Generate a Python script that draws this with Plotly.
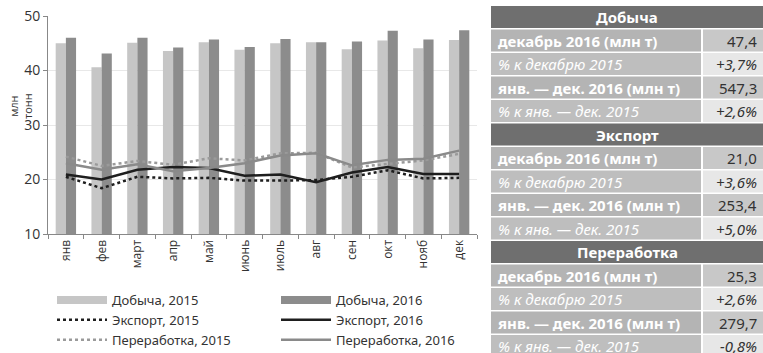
import plotly.graph_objects as go

months = ["янв", "фев", "март", "апр", "май", "июнь", "июль", "авг", "сен", "окт", "нояб", "дек"]
prod_2015 = [45.0, 40.6, 45.1, 43.6, 45.2, 43.8, 45.0, 45.2, 43.9, 45.5, 44.1, 45.6]
prod_2016 = [46.0, 43.1, 46.0, 44.2, 45.7, 44.3, 45.8, 45.2, 45.3, 47.3, 45.7, 47.4]
export_2015 = [20.5, 18.4, 20.5, 20.2, 20.3, 19.8, 19.8, 19.9, 20.5, 21.7, 20.2, 20.3]
export_2016 = [20.9, 20.0, 21.8, 22.3, 22.1, 20.7, 20.9, 19.5, 21.3, 22.3, 21.0, 21.0]
proc_2015 = [24.2, 22.5, 23.4, 22.7, 23.9, 23.5, 24.8, 24.9, 22.2, 22.9, 23.5, 24.7]
proc_2016 = [23.0, 21.8, 22.8, 21.5, 22.1, 23.0, 24.4, 24.8, 22.6, 23.6, 23.8, 25.3]

table_rows = [
    ("header", "Добыча", ""),
    ("bold", "декабрь 2016 (млн т)", "47,4"),
    ("ital", "% к декабрю 2015", "+3,7%"),
    ("bold", "янв. — дек. 2016 (млн т)", "547,3"),
    ("ital", "% к янв. — дек. 2015", "+2,6%"),
    ("header", "Экспорт", ""),
    ("bold", "декабрь 2016 (млн т)", "21,0"),
    ("ital", "% к декабрю 2015", "+3,6%"),
    ("bold", "янв. — дек. 2016 (млн т)", "253,4"),
    ("ital", "% к янв. — дек. 2015", "+5,0%"),
    ("header", "Переработка", ""),
    ("bold", "декабрь 2016 (млн т)", "25,3"),
    ("ital", "% к декабрю 2015", "+2,6%"),
    ("bold", "янв. — дек. 2016 (млн т)", "279,7"),
    ("ital", "% к янв. — дек. 2015", "-0,8%"),
]

W, H = 763, 353
ML, MR, MT, MB = 48, 0, 16, 119
PW = W - ML - MR
PH = H - MT - MB
FONT = "Noto Sans"

C_LIGHT = "#c6c6c6"
C_DARK = "#8c8c8c"

fig = go.Figure()
fig.add_trace(go.Bar(x=months, y=prod_2015, marker=dict(color=C_LIGHT, line=dict(width=0)),
                     showlegend=False, name="Добыча, 2015"))
fig.add_trace(go.Bar(x=months, y=prod_2016, marker=dict(color=C_DARK, line=dict(width=0)),
                     showlegend=False, name="Добыча, 2016"))
# legend proxies for bars
fig.add_trace(go.Scatter(x=[None], y=[None], mode="lines", line=dict(color=C_LIGHT, width=8),
                         name="Добыча, 2015", legend="legend"))
fig.add_trace(go.Scatter(x=[None], y=[None], mode="lines", line=dict(color=C_DARK, width=8),
                         name="Добыча, 2016", legend="legend2"))
fig.add_trace(go.Scatter(x=months, y=export_2015, mode="lines", legend="legend",
                         line=dict(color="#1e1e1e", width=2.5, dash="dot"), name="Экспорт, 2015"))
fig.add_trace(go.Scatter(x=months, y=export_2016, mode="lines", legend="legend2",
                         line=dict(color="#1e1e1e", width=2.5), name="Экспорт, 2016"))
fig.add_trace(go.Scatter(x=months, y=proc_2015, mode="lines", legend="legend",
                         line=dict(color="#9a9a9a", width=2.5, dash="dot"), name="Переработка, 2015"))
fig.add_trace(go.Scatter(x=months, y=proc_2016, mode="lines", legend="legend2",
                         line=dict(color="#8a8a8a", width=2.5), name="Переработка, 2016"))

x_right = 477
leg_common = dict(orientation="v", xanchor="left", yanchor="top", y=(234 - 285) / PH,
                  font=dict(size=13, color="#333333", family=FONT), bgcolor="rgba(0,0,0,0)",
                  tracegroupgap=0, itemwidth=50)
fig.update_layout(
    width=W, height=H,
    margin=dict(l=ML, r=MR, t=MT, b=MB, pad=0, autoexpand=False),
    paper_bgcolor="white", plot_bgcolor="white",
    barmode="group", bargap=0.43, bargroupgap=0,
    font=dict(family=FONT, color="#333333", size=12),
    xaxis=dict(domain=[0, (x_right - ML) / PW], type="category", tickson="boundaries",
               ticks="outside", ticklen=4, tickcolor="#888888", showline=True,
               linecolor="#888888", linewidth=1, tickangle=-90, automargin=False,
               tickfont=dict(size=12, color="#333333", family="Open Sans"), showgrid=False),
    yaxis=dict(range=[10, 50], dtick=10, showgrid=True, gridcolor="#e8e8e8", gridwidth=1,
               ticks="outside", ticklen=4, tickcolor="#888888", showline=True,
               linecolor="#888888", linewidth=1, zeroline=False, automargin=False,
               tickfont=dict(size=14, color="#333333", family="Open Sans")),
    legend=dict(x=(52 - ML) / PW, **leg_common),
    legend2=dict(x=(276 - ML) / PW, **leg_common),
)

# table drawn with shapes/annotations (pixel -> paper conversion)
def px_x(p):
    return (p - ML) / PW

def px_y(p):
    return (H - MB - p) / PH

T_LEFT, T_SPLIT, T_RIGHT = 491, 702, 763
T_TOP, ROW_H = 6, 23.5
shapes = []
annotations = [dict(xref="paper", yref="paper", x=px_x(20), y=px_y(106), text="млн<br>тонн",
                    textangle=-90, showarrow=False, xanchor="center", yanchor="middle",
                    font=dict(size=11, color="#333333", family="Open Sans"))]
for i, (kind, label, val) in enumerate(table_rows):
    top = T_TOP + i * ROW_H
    bot = top + ROW_H - 1.5
    mid = (top + bot) / 2
    if kind == "header":
        shapes.append(dict(type="rect", xref="paper", yref="paper", x0=px_x(T_LEFT), x1=px_x(T_RIGHT),
                           y0=px_y(bot), y1=px_y(top), fillcolor="#6f6f6f", line=dict(width=0), layer="below"))
        annotations.append(dict(xref="paper", yref="paper", x=px_x((T_LEFT + T_RIGHT) / 2), y=px_y(mid),
                                text="<b>" + label + "</b>", showarrow=False, xanchor="center", yanchor="middle",
                                font=dict(size=15, color="white", family=FONT)))
    else:
        lab_bg = "#b4b4b4" if kind == "bold" else "#bebebe"
        val_bg = "#c8c8c8" if kind == "bold" else "#e7e7e7"
        shapes.append(dict(type="rect", xref="paper", yref="paper", x0=px_x(T_LEFT), x1=px_x(T_SPLIT - 1),
                           y0=px_y(bot), y1=px_y(top), fillcolor=lab_bg, line=dict(width=0), layer="below"))
        shapes.append(dict(type="rect", xref="paper", yref="paper", x0=px_x(T_SPLIT + 1), x1=px_x(T_RIGHT),
                           y0=px_y(bot), y1=px_y(top), fillcolor=val_bg, line=dict(width=0), layer="below"))
        if kind == "bold":
            lt = "<b>" + label + "</b>"
            vt = val
        else:
            lt = "<i>" + label + "</i>"
            vt = "<i>" + val + "</i>"
        annotations.append(dict(xref="paper", yref="paper", x=px_x(T_LEFT + 5), y=px_y(mid),
                                text=lt, showarrow=False, xanchor="left", yanchor="middle",
                                font=dict(size=15, color="white", family=FONT)))
        annotations.append(dict(xref="paper", yref="paper", x=px_x(T_RIGHT - 4), y=px_y(mid),
                                text=vt, showarrow=False, xanchor="right", yanchor="middle",
                                font=dict(size=15, color="#333333", family=FONT)))

fig.update_layout(shapes=shapes, annotations=annotations)
fig.write_html("out.html", config={"displayModeBar": False},
               post_script="document.body.style.margin='0';document.body.style.overflow='hidden';")
